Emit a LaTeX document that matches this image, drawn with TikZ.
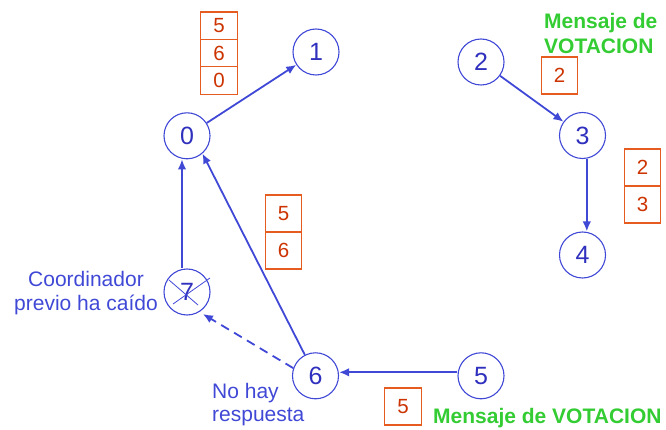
\documentclass[tikz,border=0pt]{standalone}
\usepackage{fontspec}
\setmainfont{Liberation Sans}
\usetikzlibrary{arrows.meta}
\definecolor{nodeblue}{RGB}{48,48,190}
\definecolor{lineblue}{RGB}{64,72,214}
\definecolor{boxborder}{RGB}{230,92,32}
\definecolor{boxtext}{RGB}{204,51,0}
\definecolor{msggreen}{RGB}{51,204,51}
\begin{document}
\begin{tikzpicture}[x=1pt,y=-1pt,
  proc/.style={circle,draw=lineblue,line width=1.1pt,minimum size=46pt,inner sep=0pt,
    text=nodeblue,font=\fontsize{25}{25}\selectfont},
  cell/.style={rectangle,draw=boxborder,line width=1.3pt,minimum width=36.5pt,inner sep=0pt,
    text=boxtext,font=\fontsize{20.5}{20.5}\selectfont},
  cellS/.style={cell,minimum height=27.4pt},
  cellL/.style={cell,minimum height=37pt},
  conn/.style={draw=lineblue,line width=1.8pt,-{Latex[length=10pt,width=8.5pt]}},
  lbl/.style={text=lineblue,font=\fontsize{21}{23.5}\selectfont,inner sep=0pt},
  msg/.style={text=msggreen,font=\bfseries\fontsize{21}{25.5}\selectfont,inner sep=0pt}]
\useasboundingbox (0,0) rectangle (666,430);

% processes
\node[proc] (n0) at (187,135.8) {0};
\node[proc] (n1) at (316,52) {1};
\node[proc] (n2) at (481,62) {2};
\node[proc] (n3) at (582.5,135.5) {3};
\node[proc] (n4) at (582.5,255) {4};
\node[proc] (n5) at (481,375.8) {5};
\node[proc] (n6) at (315.5,375.8) {6};
\node[proc] (n7) at (187,292) {7};

% cross on 7
\draw[lineblue,line width=0.8pt] ([shift={(-18,-12)}]n7.center) -- ([shift={(11,13)}]n7.center);
\draw[lineblue,line width=0.8pt] ([shift={(-14,12)}]n7.center) -- ([shift={(23,-14)}]n7.center);

% message boxes
\node[cellS] (a1) at (219,25.7) {5};
\node[cellS] (a2) at (219,53.1) {6};
\node[cellS] (a3) at (219,80.5) {0};

\node[cellL] (b1) at (559.5,75.5) {2};

\node[cellL] (c1) at (642.5,167.5) {2};
\node[cellL] (c2) at (642.5,204.5) {3};

\node[cellL] (d1) at (283.5,213.5) {5};
\node[cellL] (d2) at (283.5,250.5) {6};

\node[cellL] (e1) at (403,406.5) {5};

% connectors
\draw[conn] (n0) -- (n1);
\draw[conn] (n2) -- (n3);
\draw[conn] ([xshift=4.3pt]n3.south) -- ([xshift=4.3pt]n4.north);
\draw[conn] ([xshift=-5pt]n7.north) -- ([xshift=-5pt]n0.south);
\draw[conn] (n6.117) -- (n0.-49);
\draw[conn,dashed,dash pattern=on 9pt off 6pt,shorten >=4pt] (n6.161) -- (n7.-58);
\draw[conn] ([yshift=3.5pt]n5.west) -- ([yshift=3.5pt]n6.east);

% labels
\node[lbl,align=center,anchor=base] (t7) at (86,310) {Coordinador\\previo ha caído};
\node[lbl,align=left,anchor=base west] (t6) at (212,421.7) {No hay\\respuesta};
\node[msg,align=left,anchor=base west] (m1) at (544,54) {Mensaje de\\VOTACION};
\node[msg,anchor=base west] (m2) at (433,423) {Mensaje de VOTACION};
\end{tikzpicture}
\end{document}
